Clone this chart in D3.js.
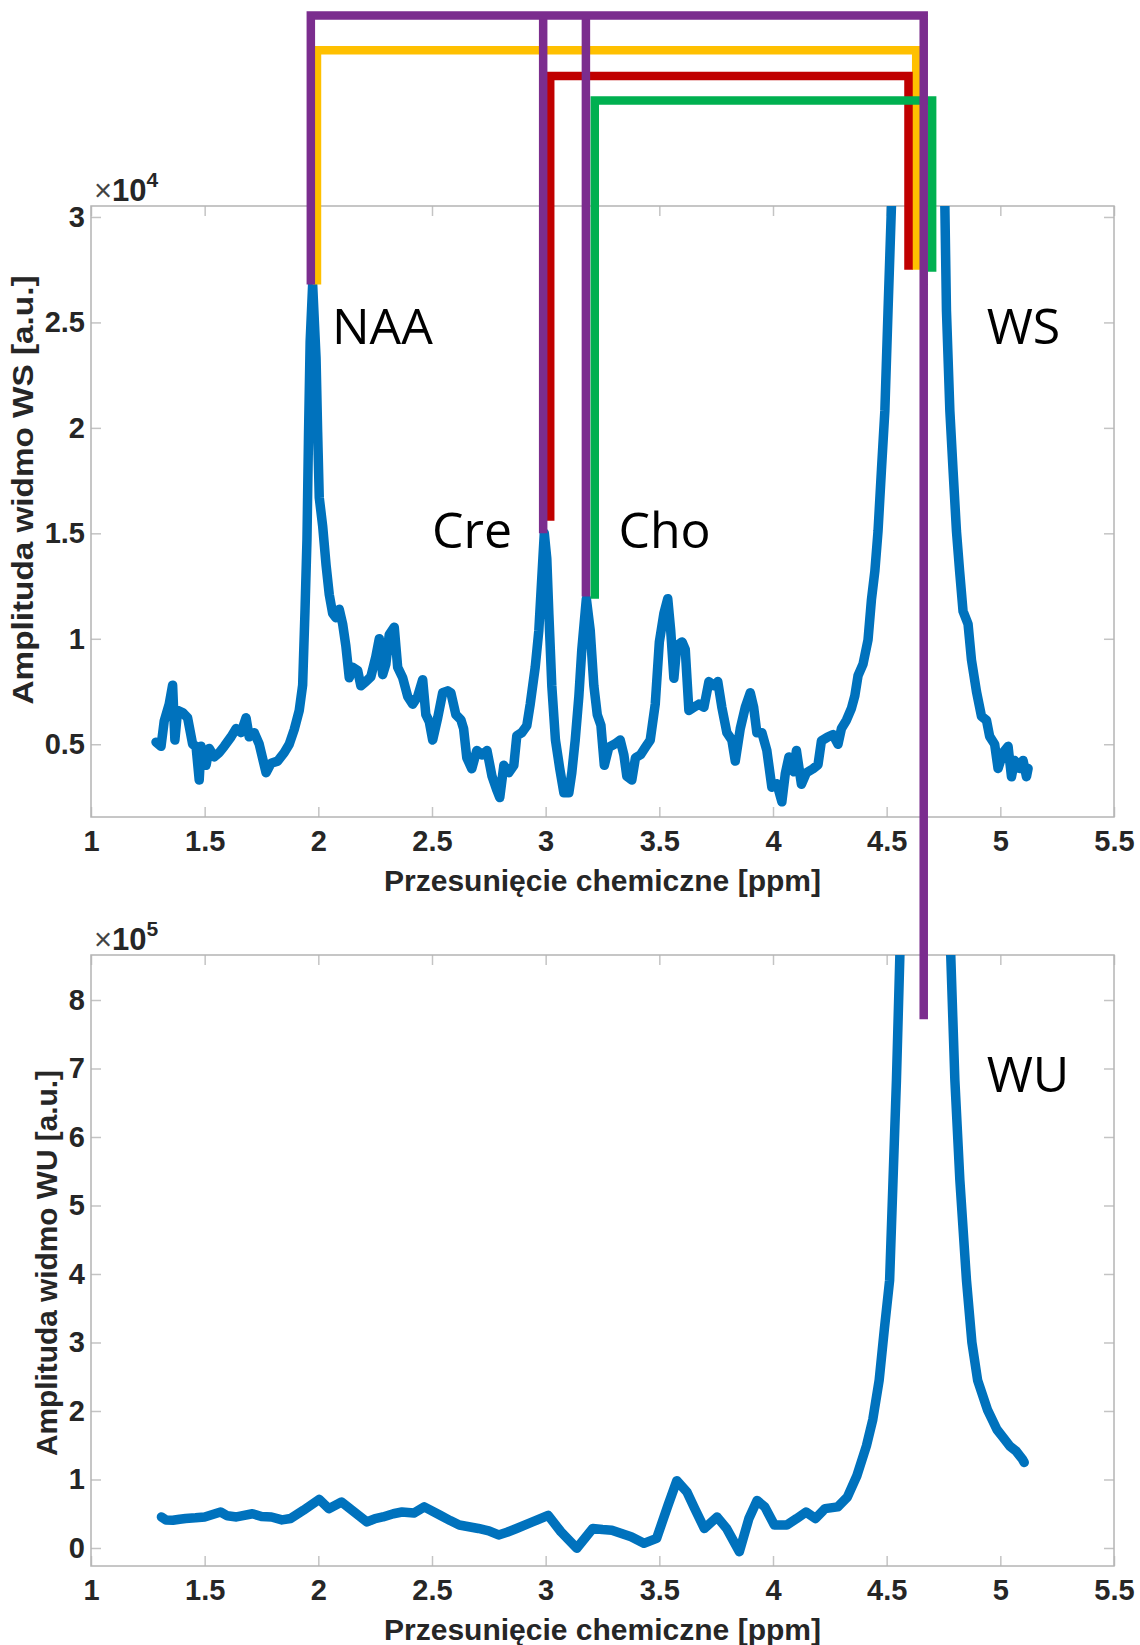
<!DOCTYPE html>
<html lang="pl">
<head>
<meta charset="UTF-8">
<title>Widmo WS / WU</title>
<script src="https://cdnjs.cloudflare.com/ajax/libs/d3/7.8.5/d3.min.js"></script>
<style>
    body { margin: 0; background: #fff; }
    svg text { font-family: 'Liberation Sans', Arial, sans-serif; fill: #262626; }
    .tick text { font-size: 29px; font-weight: bold; }
    .axis-title { font-size: 29px; font-weight: bold; }
    .peak-name { font-family: 'Open Sans', sans-serif; font-size: 50px; fill: #000 !important; }
</style>
</head>
<body>
<svg id="chart" width="1140" height="1645"></svg>
<script>
// x axis (ppm)
var xTicks = [1, 1.5, 2, 2.5, 3, 3.5, 4, 4.5, 5, 5.5];

// water suppressed spectrum (WS), amplitude x10^4
var wsPpm = [1.286, 1.308, 1.322, 1.344, 1.359, 1.369, 1.381, 1.403, 1.425, 1.447, 1.462, 1.476, 1.484, 1.506, 1.52, 1.542, 1.564, 1.586, 1.616, 1.638,
    1.66, 1.682, 1.696, 1.718, 1.74, 1.77, 1.792, 1.821, 1.85, 1.872, 1.894, 1.916, 1.931, 1.941, 1.95, 1.957, 1.964, 1.975, 1.99, 1.997,
    2.004, 2.019, 2.034, 2.048, 2.063, 2.077, 2.092, 2.107, 2.121, 2.136, 2.151, 2.173, 2.187, 2.209, 2.231, 2.253, 2.268, 2.283, 2.297, 2.312,
    2.334, 2.349, 2.371, 2.393, 2.415, 2.437, 2.459, 2.473, 2.488, 2.503, 2.525, 2.547, 2.569, 2.583, 2.605, 2.627, 2.639, 2.653, 2.675, 2.697,
    2.72, 2.742, 2.764, 2.786, 2.798, 2.816, 2.838, 2.86, 2.873, 2.895, 2.917, 2.932, 2.954, 2.97, 2.983, 2.994, 3.005, 3.014, 3.027, 3.043,
    3.062, 3.08, 3.102, 3.115, 3.13, 3.146, 3.159, 3.179, 3.196, 3.212, 3.227, 3.243, 3.258, 3.278, 3.306, 3.328, 3.344, 3.357, 3.379, 3.395,
    3.417, 3.439, 3.46, 3.482, 3.5, 3.52, 3.537, 3.55, 3.564, 3.577, 3.6, 3.614, 3.63, 3.652, 3.674, 3.696, 3.718, 3.74, 3.757, 3.775,
    3.797, 3.819, 3.834, 3.856, 3.878, 3.9, 3.915, 3.929, 3.951, 3.973, 3.995, 4.017, 4.039, 4.054, 4.07, 4.091, 4.103, 4.125, 4.147, 4.176,
    4.198, 4.213, 4.242, 4.264, 4.286, 4.301, 4.323, 4.345, 4.36, 4.374, 4.396, 4.418, 4.433, 4.448, 4.462, 4.477, 4.492, 4.506, 4.521, 4.55,
    4.6, 4.64, 4.69, 4.74, 4.756, 4.763, 4.778, 4.792, 4.807, 4.821, 4.836, 4.858, 4.873, 4.895, 4.917, 4.939, 4.953, 4.975, 4.99, 5.012,
    5.034, 5.049, 5.063, 5.085, 5.1, 5.115, 5.122];
var wsAmp = [0.51, 0.49, 0.61, 0.69, 0.78, 0.52, 0.66, 0.65, 0.625, 0.5, 0.49, 0.33, 0.49, 0.4, 0.48, 0.44, 0.46, 0.49, 0.535, 0.574,
    0.555, 0.625, 0.535, 0.555, 0.5, 0.365, 0.41, 0.42, 0.46, 0.5, 0.57, 0.66, 0.78, 1.12, 1.47, 1.98, 2.41, 2.68, 2.33, 1.98,
    1.67, 1.535, 1.35, 1.21, 1.12, 1.1, 1.14, 1.07, 0.967, 0.815, 0.865, 0.85, 0.777, 0.797, 0.82, 0.915, 1.0, 0.83, 0.88, 1.02,
    1.055, 0.865, 0.815, 0.727, 0.69, 0.727, 0.806, 0.64, 0.607, 0.52, 0.625, 0.744, 0.753, 0.744, 0.64, 0.616, 0.574, 0.436, 0.384, 0.47,
    0.45, 0.47, 0.348, 0.28, 0.247, 0.4, 0.365, 0.4, 0.54, 0.555, 0.588, 0.69, 0.865, 1.04, 1.29, 1.5, 1.38, 1.12, 0.777, 0.52,
    0.384, 0.27, 0.27, 0.365, 0.52, 0.727, 0.95, 1.19, 1.04, 0.777, 0.64, 0.59, 0.4, 0.486, 0.502, 0.52, 0.45, 0.348, 0.33, 0.436,
    0.45, 0.486, 0.52, 0.69, 0.985, 1.12, 1.19, 1.04, 0.813, 0.967, 0.985, 0.95, 0.66, 0.675, 0.69, 0.675, 0.797, 0.777, 0.797, 0.675,
    0.555, 0.52, 0.42, 0.574, 0.675, 0.744, 0.675, 0.555, 0.555, 0.47, 0.296, 0.313, 0.227, 0.36, 0.44, 0.37, 0.47, 0.31, 0.365, 0.384,
    0.403, 0.516, 0.535, 0.545, 0.5, 0.575, 0.614, 0.67, 0.73, 0.825, 0.88, 0.995, 1.185, 1.32, 1.51, 1.8, 2.08, 2.556, 3.05, 4.5,
    8, 10, 8, 4.5, 3.05, 2.556, 2.08, 1.8, 1.51, 1.32, 1.13, 1.07, 0.9, 0.75, 0.633, 0.614, 0.537, 0.5, 0.385, 0.46,
    0.49, 0.346, 0.423, 0.385, 0.423, 0.346, 0.385];
var wsTicks = [0.5, 1, 1.5, 2, 2.5, 3];

// water unsuppressed spectrum (WU), amplitude x10^5
var wuPpm = [1.31, 1.33, 1.36, 1.39, 1.416, 1.46, 1.5, 1.57, 1.6, 1.64, 1.71, 1.75, 1.794, 1.84, 1.878, 1.934, 2.004, 2.046, 2.102, 2.158,
    2.214, 2.25, 2.284, 2.33, 2.368, 2.42, 2.466, 2.536, 2.58, 2.62, 2.704, 2.75, 2.793, 2.83, 2.872, 2.942, 3.011, 3.067, 3.137, 3.207,
    3.25, 3.291, 3.376, 3.432, 3.488, 3.538, 3.577, 3.622, 3.656, 3.698, 3.754, 3.796, 3.852, 3.894, 3.93, 3.964, 4.006, 4.061, 4.104, 4.145,
    4.187, 4.229, 4.285, 4.327, 4.369, 4.411, 4.439, 4.467, 4.49, 4.513, 4.528, 4.543, 4.558, 4.6, 4.67, 4.74, 4.782, 4.8, 4.822, 4.851,
    4.875, 4.9, 4.943, 4.985, 5.013, 5.041, 5.069, 5.097, 5.105];
var wuAmp = [0.453, 0.41, 0.405, 0.42, 0.43, 0.44, 0.453, 0.525, 0.47, 0.453, 0.5, 0.46, 0.453, 0.41, 0.43, 0.55, 0.71, 0.574, 0.67, 0.525,
    0.38, 0.43, 0.453, 0.5, 0.525, 0.51, 0.6, 0.477, 0.4, 0.335, 0.285, 0.25, 0.19, 0.23, 0.285, 0.38, 0.477, 0.237, -0.005, 0.285,
    0.27, 0.26, 0.164, 0.068, 0.14, 0.622, 0.982, 0.815, 0.574, 0.285, 0.453, 0.285, -0.053, 0.43, 0.693, 0.6, 0.335, 0.335, 0.43, 0.525,
    0.43, 0.574, 0.6, 0.742, 1.055, 1.49, 1.875, 2.45, 3.2, 3.91, 5.37, 6.83, 8.64, 14, 20, 14, 8.64, 6.83, 5.37, 3.91,
    3.0, 2.45, 2.02, 1.73, 1.61, 1.49, 1.416, 1.297, 1.25];
var wuTicks = [0, 1, 2, 3, 4, 5, 6, 7, 8];

// peak names: [text, ppm, amplitude, panel]
var peakNames = [['NAA', 2.06, 2.40, 'ws'], ['Cre', 2.50, 1.43, 'ws'], ['Cho', 3.32, 1.43, 'ws'], ['WS', 4.94, 2.40, 'ws'], ['WU', 4.94, 6.66, 'wu']];

// connector brackets: top level (WS units) and legs [ppm, end amplitude, panel]
var brackets = [
    {color: '#ffc000', level: 3.791, legs: [[1.994, 2.68, 'ws'], [4.63, 2.75, 'ws']]},
    {color: '#c00000', level: 3.668, legs: [[3.02, 1.56, 'ws'], [4.596, 2.75, 'ws']]},
    {color: '#00b050', level: 3.552, legs: [[3.216, 1.19, 'ws'], [4.70, 2.74, 'ws']]},
    {color: '#7b2d8e', level: 3.955, legs: [[1.967, 2.68, 'ws'], [2.989, 1.50, 'ws'], [3.177, 1.20, 'ws'], [4.663, 7.72, 'wu']]}
];

var svg = d3.select('#chart');
svg.append('rect').attr('width', 1140).attr('height', 1645).attr('fill', '#fff');

var left = 91, right = 1114;
var x = d3.scaleLinear().domain([1, 5.5]).range([left, right]);

var panels = {
    ws: {top: 206, bottom: 817, domain: [0.155, 3.052], ticks: wsTicks, ppm: wsPpm, amp: wsAmp,
         exp: '4', title: 'Amplituda widmo WS [a.u.]', titleX: 33, titleY: 490, titleLen: 429},
    wu: {top: 955, bottom: 1566, domain: [-0.263, 8.657], ticks: wuTicks, ppm: wuPpm, amp: wuAmp,
         exp: '5', title: 'Amplituda widmo WU [a.u.]', titleX: 57, titleY: 1263, titleLen: 386}
};

function styleAxis(g) {
    g.select('.domain').remove();
    g.selectAll('.tick line').attr('stroke', '#c4c4c4').attr('stroke-width', 1.5);
    g.selectAll('.tick text').attr('fill', '#262626');
}

Object.keys(panels).forEach(function (key) {
    var p = panels[key];
    p.y = d3.scaleLinear().domain(p.domain).range([p.bottom, p.top]);
    var h = p.bottom - p.top;

    svg.append('clipPath').attr('id', 'clip-' + key)
        .append('rect').attr('x', left).attr('y', p.top).attr('width', right - left).attr('height', h);

    svg.append('g').attr('transform', 'translate(0,' + p.bottom + ')')
        .call(d3.axisBottom(x).tickValues(xTicks).tickFormat(function (d) { return d; })
            .tickSizeInner(-10).tickSizeOuter(0).tickPadding(13))
        .call(styleAxis);
    svg.append('g').attr('transform', 'translate(0,' + p.top + ')')
        .call(d3.axisTop(x).tickValues(xTicks).tickFormat('').tickSizeInner(-10).tickSizeOuter(0))
        .call(styleAxis);
    svg.append('g').attr('transform', 'translate(' + left + ',0)')
        .call(d3.axisLeft(p.y).tickValues(p.ticks).tickFormat(function (d) { return d; })
            .tickSizeInner(-10).tickSizeOuter(0).tickPadding(6))
        .call(styleAxis);
    svg.append('g').attr('transform', 'translate(' + right + ',0)')
        .call(d3.axisRight(p.y).tickValues(p.ticks).tickFormat('').tickSizeInner(-10).tickSizeOuter(0))
        .call(styleAxis);

    svg.append('rect').attr('x', left).attr('y', p.top).attr('width', right - left).attr('height', h)
        .attr('fill', 'none').attr('stroke', '#b4b4b4').attr('stroke-width', 1.5);

    var line = d3.line()
        .x(function (d) { return x(d[0]); })
        .y(function (d) { return p.y(d[1]); });
    svg.append('path')
        .datum(d3.zip(p.ppm, p.amp))
        .attr('clip-path', 'url(#clip-' + key + ')')
        .attr('d', line)
        .attr('fill', 'none')
        .attr('stroke', '#0072bd')
        .attr('stroke-width', 9.5)
        .attr('stroke-linejoin', 'round')
        .attr('stroke-linecap', 'round');

    // exponent
    var ex = svg.append('text').attr('x', left + 3).attr('y', p.top - 5).style('font-size', '31px');
    ex.append('tspan').text('\u00d7').style('font-weight', 'normal').attr('fill', '#444');
    ex.append('tspan').text('10').style('font-weight', 'bold');
    ex.append('tspan').text(p.exp).style('font-weight', 'bold').style('font-size', '21px').attr('dy', -14);

    // axis titles
    svg.append('text').attr('class', 'axis-title')
        .attr('x', (left + right) / 2).attr('y', p.bottom + 74)
        .attr('text-anchor', 'middle')
        .attr('textLength', 437).attr('lengthAdjust', 'spacingAndGlyphs')
        .text('Przesunięcie chemiczne [ppm]');
    svg.append('text').attr('class', 'axis-title')
        .attr('transform', 'translate(' + p.titleX + ',' + p.titleY + ') rotate(-90)')
        .attr('text-anchor', 'middle')
        .attr('textLength', p.titleLen).attr('lengthAdjust', 'spacingAndGlyphs')
        .text(p.title);
});

// peak names
peakNames.forEach(function (d) {
    svg.append('text').attr('class', 'peak-name')
        .attr('x', x(d[1])).attr('y', panels[d[3]].y(d[2]))
        .text(d[0]);
});

// brackets joining the peaks
var wsY = panels.ws.y;
brackets.forEach(function (b) {
    var top = wsY(b.level);
    var first = b.legs[0], last = b.legs[b.legs.length - 1];
    var path = d3.path();
    path.moveTo(x(first[0]), panels[first[2]].y(first[1]));
    path.lineTo(x(first[0]), top);
    path.lineTo(x(last[0]), top);
    path.lineTo(x(last[0]), panels[last[2]].y(last[1]));
    b.legs.slice(1, -1).forEach(function (l) {
        path.moveTo(x(l[0]), top);
        path.lineTo(x(l[0]), panels[l[2]].y(l[1]));
    });
    svg.append('path')
        .attr('d', path.toString())
        .attr('fill', 'none')
        .attr('stroke', b.color)
        .attr('stroke-width', 8.5)
        .attr('stroke-linejoin', 'miter');
});
</script>
</body>
</html>
